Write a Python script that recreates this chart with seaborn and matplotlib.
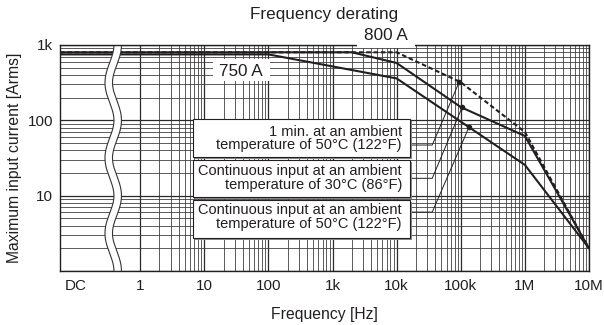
import numpy as np
import pandas as pd
import matplotlib
matplotlib.use("Agg")
import matplotlib.pyplot as plt
import seaborn as sns
from matplotlib.ticker import FixedLocator, FixedFormatter, NullFormatter
from matplotlib.patches import Rectangle

# ---------------- data ----------------
x_left = 10 ** -1.25          # left edge of the DC region
x_ticks = [0.1, 1, 10, 100, 1e3, 1e4, 1e5, 1e6, 1e7]
x_tick_labels = ["DC", "1", "10", "100", "1k", "10k", "100k", "1M", "10M"]
y_ticks = [1, 10, 100, 1000]
y_tick_labels = ["", "10", "100", "1k"]

cont50_freq = [x_left, 100, 1e4, 1e6, 1e7]
cont50_amp = [750, 750, 360, 25.6, 2.0]
cont30_freq = [x_left, 2000, 1e4, 1e5, 1e6, 1e7]
cont30_amp = [800, 800, 577, 150, 62, 2.0]
min1_freq = [x_left, 1e4, 1e5, 1e6, 1e7]
min1_amp = [800, 800, 320, 70, 2.0]

series = ["min1_50C", "cont_30C", "cont_50C"]
box_texts = [
    ["1 min. at an ambient", "temperature of 50°C (122°F)"],
    ["Continuous input at an ambient", "temperature of 30°C (86°F)"],
    ["Continuous input at an ambient", "temperature of 50°C (122°F)"],
]
marker_freq = [95e3, 105e3, 135e3]
marker_amp = [327, 149, 82]
leader_start_freq = 16.3e3
leader_elbow_freq = 35.9e3
leader_amp = [47, 17, 6.05]

# ---------------- styling ----------------
sns.set_style("white")
plt.rcParams["font.family"] = ["Liberation Sans", "DejaVu Sans"]
INK = "#231f20"

W, H = 604, 325
AX_L, AX_R, AX_T, AX_B = 60, 589, 45, 271
fig = plt.figure(figsize=(W / 100, H / 100), dpi=100)
ax = fig.add_axes([AX_L / W, (H - AX_B) / H, (AX_R - AX_L) / W, (AX_B - AX_T) / H])


def px2ax(px, py):
    return ((px - AX_L) / (AX_R - AX_L), (AX_B - py) / (AX_B - AX_T))


df = pd.concat([
    pd.DataFrame({"freq": min1_freq, "amp": min1_amp, "series": series[0]}),
    pd.DataFrame({"freq": cont30_freq, "amp": cont30_amp, "series": series[1]}),
    pd.DataFrame({"freq": cont50_freq, "amp": cont50_amp, "series": series[2]}),
])
sns.lineplot(data=df, x="freq", y="amp", hue="series", style="series",
             palette={s: INK for s in series},
             dashes={series[0]: (2.2, 1.3), series[1]: "", series[2]: ""},
             estimator=None, sort=False, legend=False, linewidth=1.5, ax=ax,
             zorder=2)

ax.set_xscale("log")
ax.set_yscale("log")
ax.set_xlim(x_left, 1e7)
ax.set_ylim(1, 1000)

ax.xaxis.set_major_locator(FixedLocator(x_ticks))
ax.xaxis.set_major_formatter(FixedFormatter(x_tick_labels))
ax.xaxis.set_minor_locator(FixedLocator([k * 10 ** n for n in range(0, 7) for k in range(2, 10)]))
ax.xaxis.set_minor_formatter(NullFormatter())
ax.yaxis.set_major_locator(FixedLocator(y_ticks))
ax.yaxis.set_major_formatter(FixedFormatter(y_tick_labels))
ax.yaxis.set_minor_locator(FixedLocator([k * 10 ** n for n in range(0, 3) for k in range(2, 10)]))
ax.yaxis.set_minor_formatter(NullFormatter())

ax.grid(False)
ax.grid(which="minor", axis="both", color="#404040", linewidth=0.6, zorder=0.5)
ax.grid(which="major", axis="y", color="#2a2a2a", linewidth=0.9, zorder=0.5)
for v in x_ticks[1:]:
    ax.axvline(v, color="#2a2a2a", linewidth=0.9, zorder=0.5)
ax.set_axisbelow(True)

ax.tick_params(which="both", length=0)
ax.tick_params(axis="x", labelsize=11, pad=6, colors=INK)
ax.tick_params(axis="y", labelsize=11, pad=5, colors=INK)
for s in ax.spines.values():
    s.set_color(INK)
    s.set_linewidth(1.0)
    s.set_zorder(6)

ax.set_xlabel("Frequency [Hz]", fontsize=11.3, color=INK, labelpad=10)
ax.set_ylabel("Maximum input current [Arms]", fontsize=11.3, color=INK, labelpad=4)
fig.text((AX_L + AX_R) / 2 / W, 1 - 15 / H, "Frequency derating", fontsize=12.3,
         color=INK, ha="center", va="center")

# wavy break band (decoration)
yy = np.logspace(0, 3, 400)
xx = 10 ** (-0.42 + 0.07 * np.cos(2 * np.pi * np.log10(yy)))
ax.plot(xx, yy, color="#333333", linewidth=6.2, solid_capstyle="butt", zorder=2.3)
ax.plot(xx, yy, color="white", linewidth=4.6, solid_capstyle="butt", zorder=2.4)

# 750 A / 800 A labels
for (x0, y0, x1, y1), (tx, ty), lab in [((213, 59, 270, 81), (241, 71), "750 A"),
                                          ((357, 22, 415, 48), (386, 36), "800 A")]:
    ax0, ay1 = px2ax(x0, y1)
    ax1, ay0 = px2ax(x1, y0)
    ax.add_patch(Rectangle((ax0, ay1), ax1 - ax0, ay0 - ay1, transform=ax.transAxes,
                           facecolor="white", edgecolor="none", zorder=7, clip_on=False))
    txa, tya = px2ax(tx, ty)
    ax.text(txa, tya, lab, transform=ax.transAxes, fontsize=12.3, color=INK,
            ha="center", va="center", zorder=8)

# annotation boxes
boxes_px = [(193, 119, 410, 157), (193, 160, 410, 197), (193, 200, 410, 238)]
baselines = [(135.5, 149.5), (175.5, 189.5), (214, 228)]
for (x0, y0, x1, y1), lines, bl in zip(boxes_px, box_texts, baselines):
    ax0, ay1 = px2ax(x0, y1)
    ax1, ay0 = px2ax(x1, y0)
    sx, sy = 1.5 / (AX_R - AX_L), 1.5 / (AX_B - AX_T)
    ax.add_patch(Rectangle((ax0 + sx, ay1 - sy), ax1 - ax0, ay0 - ay1, transform=ax.transAxes,
                           facecolor="#8a8a8a", edgecolor="none", zorder=3.9))
    ax.add_patch(Rectangle((ax0, ay1), ax1 - ax0, ay0 - ay1, transform=ax.transAxes,
                           facecolor="white", edgecolor=INK, linewidth=0.8, zorder=4))
    for line, b in zip(lines, bl):
        tx, ty = px2ax(402, b)
        ax.text(tx, ty, line, transform=ax.transAxes, fontsize=10.5, color=INK,
                ha="right", va="baseline", zorder=5)

# leader lines and dots
for mf, ma, ly in zip(marker_freq, marker_amp, leader_amp):
    ax.plot([leader_start_freq, leader_elbow_freq, mf], [ly, ly, ma], color=INK,
            linewidth=0.7, zorder=3)
ax.scatter(marker_freq, marker_amp, s=16, color=INK, zorder=3.5, linewidths=0)

fig.savefig("out.png", dpi=100)
